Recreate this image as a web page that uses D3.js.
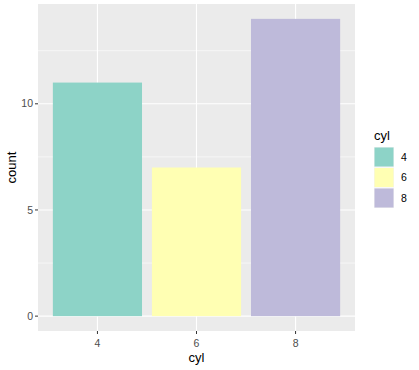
<!DOCTYPE html>
<html><head><meta charset="utf-8">
<script src="https://cdn.jsdelivr.net/npm/d3@7"></script>
<style>body{margin:0;background:#fff;}text{font-family:Arial,"Liberation Sans",sans-serif;}</style>
</head><body>
<svg id="c" width="419" height="370"></svg>
<script>
const categories = ["4","6","8"];
const counts = [11, 7, 14];
const colors = ["#8DD3C7","#FFFFB3","#BEBADA"];
const yTicks = [0, 5, 10];
const yMinor = [2.5, 7.5, 12.5];

const svg = d3.select("#c");
const L = 38, R = 355, T = 4, B = 331;
const x = d3.scaleLinear().domain([0.4, 3.6]).range([L, R]);
const y = d3.scaleLinear().domain([-0.7, 14.7]).range([B, T]);

svg.append("rect").attr("x", L).attr("y", T).attr("width", R - L).attr("height", B - T).attr("fill", "#EBEBEB");

svg.selectAll(".ymin").data(yMinor).enter().append("line")
  .attr("x1", L).attr("x2", R).attr("y1", d => y(d)).attr("y2", d => y(d))
  .attr("stroke", "#fff").attr("stroke-width", 0.55);
svg.selectAll(".ymaj").data(yTicks).enter().append("line")
  .attr("x1", L).attr("x2", R).attr("y1", d => y(d)).attr("y2", d => y(d))
  .attr("stroke", "#fff").attr("stroke-width", 1.1);
svg.selectAll(".xmaj").data(categories).enter().append("line")
  .attr("x1", (d, i) => x(i + 1)).attr("x2", (d, i) => x(i + 1)).attr("y1", T).attr("y2", B)
  .attr("stroke", "#fff").attr("stroke-width", 1.1);

svg.selectAll(".bar").data(counts).enter().append("rect")
  .attr("x", (d, i) => x(i + 1 - 0.45)).attr("width", (d, i) => x(i + 1 + 0.45) - x(i + 1 - 0.45))
  .attr("y", d => y(d)).attr("height", d => y(0) - y(d))
  .attr("fill", (d, i) => colors[i]);

// axes ticks
svg.selectAll(".yt").data(yTicks).enter().append("line")
  .attr("x1", L - 3).attr("x2", L).attr("y1", d => y(d)).attr("y2", d => y(d))
  .attr("stroke", "#333").attr("stroke-width", 1);
svg.selectAll(".ytl").data(yTicks).enter().append("text")
  .attr("x", L - 5).attr("y", d => y(d)).attr("dy", "0.35em").attr("text-anchor", "end")
  .attr("font-size", 10.5).attr("fill", "#4D4D4D").text(d => d);
svg.selectAll(".xt").data(categories).enter().append("line")
  .attr("x1", (d, i) => x(i + 1)).attr("x2", (d, i) => x(i + 1)).attr("y1", B).attr("y2", B + 3)
  .attr("stroke", "#333").attr("stroke-width", 1);
svg.selectAll(".xtl").data(categories).enter().append("text")
  .attr("x", (d, i) => x(i + 1)).attr("y", 346.5).attr("text-anchor", "middle")
  .attr("font-size", 10.5).attr("fill", "#4D4D4D").text(d => d);

svg.append("text").attr("x", (L + R) / 2).attr("y", 362).attr("text-anchor", "middle")
  .attr("font-size", 13).attr("fill", "#000").text("cyl");
svg.append("text").attr("transform", `translate(16,${(T + B) / 2}) rotate(-90)`).attr("text-anchor", "middle")
  .attr("font-size", 13).attr("fill", "#000").text("count");

// legend
const lg = svg.append("g");
lg.append("text").attr("x", 374).attr("y", 140).attr("font-size", 13).attr("fill", "#000").text("cyl");
const keyY = d3.scaleLinear().domain([0, 1]).range([147, 167.5]);
categories.forEach((c, i) => {
  lg.append("rect").attr("x", 374).attr("y", keyY(i)).attr("width", 20).attr("height", 20)
    .attr("fill", "#F2F2F2");
  lg.append("rect").attr("x", 374.5).attr("y", keyY(i) + 0.5).attr("width", 19).attr("height", 19)
    .attr("fill", colors[i]);
  lg.append("text").attr("x", 401).attr("y", keyY(i) + 10).attr("dy", "0.35em")
    .attr("font-size", 10.5).attr("fill", "#000").text(c);
});
</script>
</body></html>
